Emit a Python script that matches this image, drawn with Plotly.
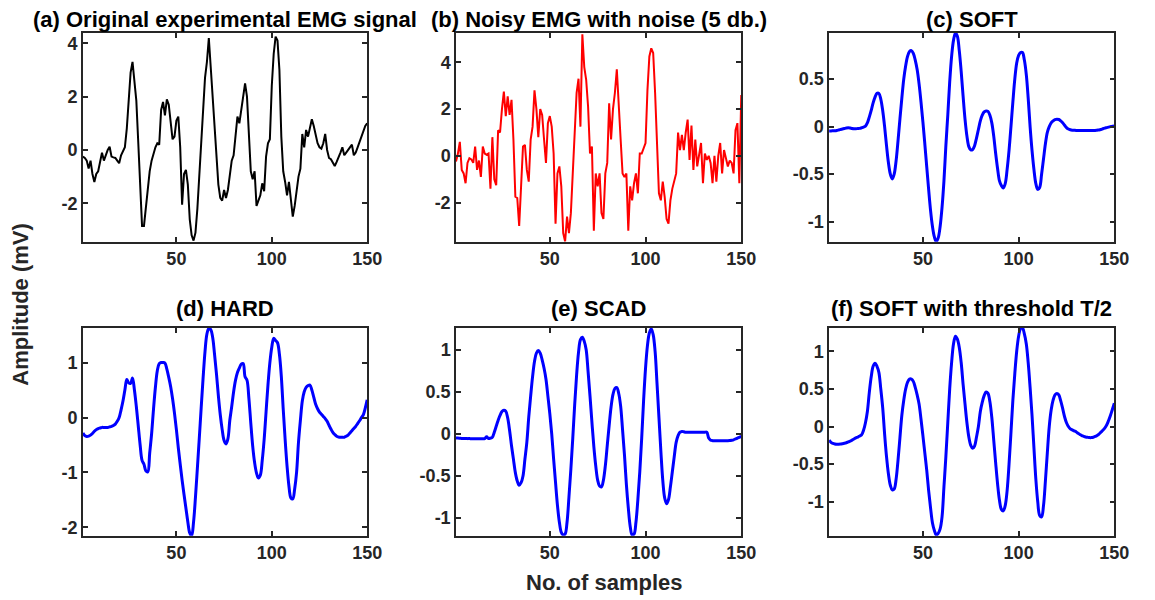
import plotly.graph_objects as go

W, H = 1155, 600

samples = list(range(1, 151))

original_emg = [
    -0.25, -0.3, -0.4, -0.7, -0.4, -0.9, -1.2, -0.9, -0.8, -0.5,
    -0.1, -0.4, -0.15, 0.0, 0.12, -0.25, -0.28, -0.3, -0.4, -0.5,
    -0.2, -0.05, 0.1, 0.8, 2.0, 2.9, 3.3, 2.6, 1.85, 0.3,
    -1.5, -2.85, -2.85, -2.1, -1.4, -0.8, -0.4, -0.1, 0.1, 0.25,
    0.2, 1.5, 1.8, 1.3, 1.9, 1.7, 1.0, 0.4, 0.5, 1.1,
    1.25, 0.1, -2.05, -0.9, -0.75, -1.3, -2.6, -3.2, -3.4, -3.1,
    -2.2, -1.0, 0.3, 1.6, 2.7, 3.3, 4.2, 3.1, 2.0, 0.8,
    -0.2, -1.3, -1.8, -1.9, -1.5, -1.8, -1.5, -0.9, -0.4, -0.2,
    0.7, 1.25, 1.0, 1.5, 2.1, 2.5, 2.0, 0.5, -0.8, -1.1,
    -0.8, -2.1, -1.9, -1.7, -1.25, -1.55, -0.25, 0.25, 0.4, 2.4,
    3.6, 4.25, 4.1, 3.0, 0.5, -0.8, -1.2, -1.7, -1.2, -1.9,
    -2.5, -2.1, -1.6, -1.0, -0.7, 0.6, 0.1, 0.75, 0.5, 0.9,
    1.15, 0.9, 0.6, 0.25, 0.1, 0.05, 0.25, 0.6, 0.0, -0.3,
    -0.35, -0.5, -0.6, -0.45, -0.3, -0.1, 0.1, -0.2, -0.1, 0.0,
    0.1, 0.2, -0.2, -0.1, 0.1, 0.3, 0.55, 0.75, 0.9, 1.0,
]

noisy_emg = [
    -0.24, 0.1, 0.6, -0.6, -0.75, -1.17, -0.3, -0.1, -0.15, -0.3,
    0.4, -0.6, -0.2, -0.9, 0.4, 0.1, 0.05, 0.1, -1.4, 0.8,
    -1.0, -1.25, 1.1, 1.0, 2.0, 2.75, 1.7, 2.55, 1.75, 2.4,
    0.7, -1.75, -1.8, -3.0, -1.3, 0.4, 0.47, -0.6, -1.1, 0.7,
    1.25, 2.8, 2.0, 0.8, 2.0, 1.75, 0.7, -0.3, 1.4, 1.7,
    1.25, 0.1, -2.9, -0.75, -0.45, -1.3, -3.3, -3.66, -2.6, -3.3,
    -2.45, -0.75, 1.0, 2.7, 3.3, 1.25, 5.2, 3.8, 3.25, 2.1,
    0.1, 0.4, -3.2, -0.75, -1.3, -0.75, -2.45, -2.7, -0.75, -0.3,
    2.25, 0.7, 2.0, 2.7, 3.7, 2.4, 0.7, -0.75, -0.9, -0.75,
    -3.2, -1.3, -1.9, -1.17, -0.75, -1.6, 0.1, 0.1, 0.3, 0.55,
    2.8, 4.25, 4.6, 4.4, 2.7, 0.25, -1.6, -1.9, -1.1, -1.75,
    -2.7, -2.9, -1.9, -1.4, -1.0, -0.75, 1.0, 0.25, 0.9, 0.25,
    1.0, 1.55, -0.17, 1.3, -0.6, 0.7, -0.45, 0.1, 0.55, -1.17,
    0.1, -0.17, 0.0, -0.3, -1.17, 0.0, -1.1, 0.0, 0.55, -0.75,
    0.25, -0.1, -0.45, -0.2, -0.3, -0.75, 1.1, 1.4, -1.17, 2.6,
]

soft = [
    -0.045, -0.045, -0.044, -0.043, -0.04, -0.035, -0.03, -0.025, -0.02, -0.015,
    -0.012, -0.015, -0.02, -0.022, -0.022, -0.02, -0.018, -0.012, -0.005, 0.005,
    0.04, 0.1, 0.17, 0.25, 0.31, 0.35, 0.35, 0.29, 0.17, 0.0,
    -0.2, -0.38, -0.5, -0.55, -0.5, -0.36, -0.15, 0.08, 0.3, 0.5,
    0.64, 0.74, 0.79, 0.8, 0.77, 0.7, 0.6, 0.45, 0.26, 0.05,
    -0.18, -0.42, -0.66, -0.88, -1.05, -1.16, -1.21, -1.17, -1.05, -0.85,
    -0.57, -0.2, 0.12, 0.47, 0.74, 0.91, 0.985, 0.95, 0.8, 0.58,
    0.32, 0.08, -0.1, -0.21, -0.245, -0.24, -0.2, -0.12, -0.03, 0.06,
    0.12, 0.155, 0.165, 0.16, 0.12, 0.04, -0.1, -0.28, -0.44, -0.57,
    -0.62, -0.645, -0.6, -0.45, -0.25, 0.0, 0.26, 0.5, 0.67, 0.75,
    0.78, 0.78, 0.7, 0.55, 0.3, 0.0, -0.25, -0.45, -0.6, -0.66,
    -0.64, -0.5, -0.34, -0.18, -0.06, 0.0, 0.04, 0.06, 0.075, 0.078,
    0.075, 0.06, 0.04, 0.015, -0.01, -0.025, -0.033, -0.037, -0.038, -0.04,
    -0.04, -0.04, -0.04, -0.04, -0.04, -0.04, -0.04, -0.04, -0.04, -0.04,
    -0.037, -0.035, -0.03, -0.022, -0.015, -0.01, -0.005, 0.0, 0.005, 0.008,
]

hard = [
    -0.28, -0.33, -0.345, -0.34, -0.32, -0.29, -0.25, -0.22, -0.2, -0.19,
    -0.18, -0.18, -0.18, -0.18, -0.17, -0.16, -0.145, -0.12, -0.07, 0.0,
    0.14, 0.3, 0.5, 0.69, 0.63, 0.62, 0.72, 0.5, 0.2, -0.15,
    -0.5, -0.78, -0.85, -0.97, -0.99, -0.65, -0.3, 0.15, 0.55, 0.85,
    0.98, 1.0, 1.0, 0.99, 0.88, 0.73, 0.56, 0.34, 0.08, -0.22,
    -0.55, -0.85, -1.14, -1.4, -1.65, -1.9, -2.1, -2.15, -1.9, -1.45,
    -0.92, -0.38, 0.18, 0.72, 1.2, 1.52, 1.62, 1.6, 1.46, 1.15,
    0.8, 0.4, 0.05, -0.22, -0.42, -0.48, -0.39, -0.05, 0.2, 0.47,
    0.68, 0.82, 0.9, 0.97, 0.98, 0.74, 0.68, 0.35, -0.1, -0.52,
    -0.82, -1.01, -1.1, -1.05, -0.78, -0.4, 0.1, 0.59, 1.0, 1.28,
    1.44, 1.4, 1.36, 1.15, 0.75, 0.15, -0.4, -0.88, -1.25, -1.46,
    -1.48, -1.3, -1.0, -0.45, -0.05, 0.3, 0.47, 0.55, 0.58, 0.59,
    0.5, 0.37, 0.24, 0.16, 0.1, 0.06, 0.02, -0.02, -0.07, -0.14,
    -0.21, -0.27, -0.31, -0.34, -0.355, -0.36, -0.36, -0.36, -0.34, -0.32,
    -0.28, -0.24, -0.2, -0.16, -0.11, -0.06, 0.0, 0.05, 0.17, 0.32,
]

scad = [
    -0.05, -0.05, -0.052, -0.054, -0.055, -0.055, -0.056, -0.056, -0.057, -0.057,
    -0.058, -0.058, -0.058, -0.058, -0.058, -0.055, -0.035, -0.055, -0.05, -0.04,
    0.02, 0.09, 0.16, 0.22, 0.265, 0.28, 0.27, 0.19, 0.04, -0.14,
    -0.3, -0.46, -0.56, -0.61, -0.58, -0.5, -0.3, -0.1, 0.2, 0.45,
    0.68, 0.86, 0.96, 0.99, 0.96, 0.88, 0.78, 0.65, 0.45, 0.24,
    0.0, -0.3, -0.58, -0.85, -1.05, -1.17, -1.2, -1.19, -1.05, -0.75,
    -0.42, -0.05, 0.35, 0.7, 0.97, 1.12, 1.15, 1.1, 1.0, 0.74,
    0.45, 0.14, -0.15, -0.38, -0.55, -0.62, -0.63, -0.55, -0.38, -0.14,
    0.1, 0.32, 0.47, 0.54, 0.55, 0.48, 0.33, 0.05, -0.25, -0.6,
    -0.88, -1.1, -1.2, -1.19, -1.05, -0.78, -0.45, -0.05, 0.4, 0.78,
    1.05, 1.2, 1.25, 1.18, 0.98, 0.6, 0.2, -0.2, -0.55, -0.76,
    -0.83, -0.78, -0.63, -0.45, -0.27, -0.1, -0.02, 0.02, 0.03, 0.025,
    0.02, 0.02, 0.02, 0.02, 0.02, 0.02, 0.02, 0.02, 0.02, 0.02,
    0.02, 0.02, -0.05, -0.075, -0.08, -0.08, -0.08, -0.08, -0.08, -0.08,
    -0.08, -0.08, -0.08, -0.078, -0.075, -0.07, -0.06, -0.05, -0.04, -0.03,
]

soft_half = [
    -0.18, -0.21, -0.225, -0.232, -0.235, -0.235, -0.233, -0.228, -0.222, -0.215,
    -0.205, -0.195, -0.18, -0.165, -0.15, -0.14, -0.125, -0.11, -0.05, 0.05,
    0.2, 0.45, 0.66, 0.8, 0.84, 0.8, 0.72, 0.5, 0.25, -0.1,
    -0.4, -0.63, -0.78, -0.84, -0.83, -0.7, -0.45, -0.15, 0.15, 0.35,
    0.5, 0.59, 0.63, 0.63, 0.6, 0.52, 0.42, 0.3, 0.1, -0.12,
    -0.35, -0.58, -0.85, -1.08, -1.28, -1.38, -1.44, -1.42, -1.36, -1.2,
    -0.8, -0.4, 0.05, 0.5, 0.85, 1.1, 1.2, 1.16, 1.05, 0.85,
    0.56, 0.3, 0.05, -0.14, -0.25, -0.29, -0.26, -0.14, 0.0, 0.2,
    0.32, 0.41, 0.46, 0.44, 0.33, 0.12, -0.18, -0.48, -0.76, -0.98,
    -1.1, -1.12, -1.05, -0.85, -0.5, -0.08, 0.35, 0.7, 1.0, 1.2,
    1.3, 1.31, 1.23, 1.1, 0.85, 0.52, 0.15, -0.28, -0.7, -1.0,
    -1.18, -1.2, -1.05, -0.72, -0.35, 0.0, 0.22, 0.35, 0.42, 0.44,
    0.42, 0.34, 0.24, 0.13, 0.05, 0.0, -0.03, -0.045, -0.058, -0.07,
    -0.09, -0.105, -0.12, -0.13, -0.138, -0.143, -0.147, -0.147, -0.142, -0.132,
    -0.118, -0.1, -0.075, -0.05, -0.02, 0.02, 0.08, 0.15, 0.23, 0.31,
]

titles = [
    "(a) Original experimental EMG signal",
    "(b) Noisy EMG with noise (5 db.)",
    "(c) SOFT",
    "(d) HARD",
    "(e) SCAD",
    "(f) SOFT with threshold T/2",
]
series = [original_emg, noisy_emg, soft, hard, scad, soft_half]
colors = ["#000000", "#FF0000", "#0000FF", "#0000FF", "#0000FF", "#0000FF"]
widths = [2, 2, 3, 3, 3, 3]
y_ranges = [[-3.44, 4.39], [-3.67, 5.26], [-1.21, 0.986],
            [-2.15, 1.63], [-1.21, 1.26], [-1.45, 1.31]]
y_tickvals = [[-2, 0, 2, 4], [-2, 0, 2, 4], [-1, -0.5, 0, 0.5],
              [-2, -1, 0, 1], [-1, -0.5, 0, 0.5, 1], [-1, -0.5, 0, 0.5, 1]]
y_ticktext = [["-2", "0", "2", "4"], ["-2", "0", "2", "4"], ["-1", "-0.5", "0", "0.5"],
              ["-2", "-1", "0", "1"], ["-1", "-0.5", "0", "0.5", "1"], ["-1", "-0.5", "0", "0.5", "1"]]
x_tickvals = [50, 100, 150]
x_ticktext = ["50", "100", "150"]

# layout geometry (pixels)
col_px = [(84, 372), (462, 751), (840, 1129)]
row_px = [(33, 242.5), (329, 537.5)]

def px_x(p):
    return p / W

def px_y(p):
    return 1 - p / H

FONT = "Liberation Sans, Arial, Helvetica, sans-serif"
AX = "#262626"

fig = go.Figure()
annotations = []
layout_axes = {}
for i in range(6):
    r, c = divmod(i, 3)
    k = "" if i == 0 else str(i + 1)
    fig.add_trace(go.Scatter(
        x=samples, y=series[i], mode="lines",
        line=dict(color=colors[i], width=widths[i],
                  shape="linear" if i < 2 else "spline"),
        xaxis="x" + k, yaxis="y" + k, showlegend=False, hoverinfo="skip",
    ))
    x0, x1 = col_px[c]
    y0, y1 = row_px[r]
    common = dict(
        showline=True, linecolor=AX, linewidth=1.5, mirror="ticks",
        ticks="inside", ticklen=5, tickwidth=1.5, tickcolor=AX,
        showgrid=False, zeroline=False,
        tickfont=dict(family=FONT, size=18, color=AX, weight="bold"),
    )
    layout_axes["xaxis" + k] = dict(
        domain=[px_x(x0), px_x(x1)], range=[1, 150], anchor="y" + k,
        tickmode="array", tickvals=x_tickvals, ticktext=x_ticktext, **common)
    layout_axes["yaxis" + k] = dict(
        domain=[px_y(y1), px_y(y0)], range=y_ranges[i], anchor="x" + k,
        tickmode="array", tickvals=y_tickvals[i], ticktext=y_ticktext[i], **common)
    title_y = 20 if r == 0 else 310
    annotations.append(dict(
        text="<b>" + titles[i] + "</b>", x=px_x((x0 + x1) / 2), y=px_y(title_y),
        xref="paper", yref="paper", xanchor="center", yanchor="middle",
        showarrow=False, font=dict(family=FONT, size=22, color="#000000")))

annotations.append(dict(
    text="<b>Amplitude (mV)</b>", x=px_x(21), y=px_y(305), xref="paper", yref="paper",
    xanchor="center", yanchor="middle", textangle=-90, showarrow=False,
    font=dict(family=FONT, size=22, color=AX)))
annotations.append(dict(
    text="<b>No. of samples</b>", x=px_x(612), y=px_y(584), xref="paper", yref="paper",
    xanchor="center", yanchor="middle", showarrow=False,
    font=dict(family=FONT, size=22, color=AX)))

fig.update_layout(
    width=W, height=H, margin=dict(l=0, r=0, t=0, b=0),
    paper_bgcolor="white", plot_bgcolor="white",
    annotations=annotations, **layout_axes,
)

fig.write_html("out.html")
